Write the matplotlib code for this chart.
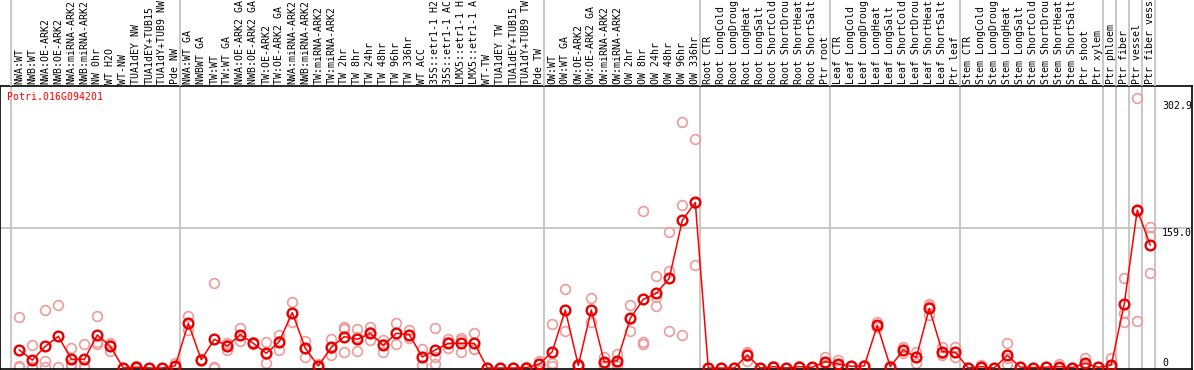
import matplotlib
matplotlib.use("Agg")
import matplotlib.pyplot as plt
import matplotlib.transforms as mtransforms
import numpy as np

gene_id = "Potri.016G094201"

# sample labels as they show in the header (cut to the visible width)
labels = [
    "NWA:WT", "NWB:WT", "NWA:OE-ARK2", "NWB:OE-ARK2", "NWA:miRNA-ARK2",
    "NWB:miRNA-ARK2", "NW 0hr", "WT H2O", "WT-NW", "TUA1dEY NW",
    "TUA1dEY+TUB15", "TUA1dY+TUB9 NW", "Pde NW",
    "NWA:WT GA", "NWBWT GA", "TW:WT", "TW:WT GA", "NWA:OE-ARK2 GA",
    "NWB:OE-ARK2 GA", "TW:OE-ARK2", "TW:OE-ARK2 GA", "NWA:miRNA-ARK2",
    "NWB:miRNA-ARK2", "TW:miRNA-ARK2", "TW:miRNA-ARK2", "TW 2hr",
    "TW 8hr", "TW 24hr", "TW 48hr", "TW 96hr", "TW 336hr", "WT ACC",
    "35S::etr1-1 H2", "35S::etr1-1 AC", "LMX5::etr1-1 H",
    "LMX5::etr1-1 A", "WT-TW", "TUA1dEY TW", "TUA1dEY+TUB15",
    "TUA1dY+TUB9 TW", "Pde TW",
    "OW:WT", "OW:WT GA", "OW:OE-ARK2", "OW:OE-ARK2 GA", "OW:miRNA-ARK2",
    "OW:miRNA-ARK2", "OW 2hr", "OW 8hr", "OW 24hr", "OW 48hr", "OW 96hr",
    "OW 336hr",
    "Root CTR", "Root LongCold", "Root LongDroug", "Root LongHeat",
    "Root LongSalt", "Root ShortCold", "Root ShortDrou", "Root ShortHeat",
    "Root ShortSalt", "Ptr root",
    "Leaf CTR", "Leaf LongCold", "Leaf LongDroug", "Leaf LongHeat",
    "Leaf LongSalt", "Leaf ShortCold", "Leaf ShortDrou", "Leaf ShortHeat",
    "Leaf ShortSalt", "Ptr leaf",
    "Stem CTR", "Stem LongCold", "Stem LongDroug", "Stem LongHeat",
    "Stem LongSalt", "Stem ShortCold", "Stem ShortDrou", "Stem ShortHeat",
    "Stem ShortSalt", "Ptr shoot", "Ptr xylem",
    "Ptr phloem", "Ptr fiber", "Ptr vessel", "Ptr fiber vess",
]
group_sizes = [13, 28, 12, 10, 10, 11, 1, 1, 1, 1]

means = [
    20.5, 9, 24.6, 36, 10, 9.8, 37.5, 24.6, 0, 1, 0, 0, 2.6,
    50.8, 9.4, 32.6, 25, 37.9, 28, 16.7, 30, 63, 22.4, 2.3, 23.5, 35.6,
    32.6, 39.4, 25.8, 39.4, 37.9, 12.5, 20.5, 28, 28, 28, 0, 0, 0, 0.5, 4.2,
    18.5, 65.9, 3, 65.9, 6.8, 8.3, 56.4, 78, 84.8, 102, 167.7, 188,
    0, 0, 0, 14.8, 0, 1.5, 0, 1.5, 0.8, 7.2,
    4.5, 1.9, 2.3, 48.5, 1.5, 20.5, 12, 67.8, 18.5, 17.8,
    0, 1.5, 0, 14.4, 1, 0.5, 1, 1.5, 0.5, 5.3, 0.8,
    3.4, 72.7, 179.5, 139.7,
]
rep1 = [
    57.6, 25.8, 65.5, 71, 22.4, 27, 59, 28, 0, 2, 0, 0, 6,
    59, 10, 96, 28.8, 45, 29, 29, 38, 74.6, 31, 5, 32.6, 47,
    44, 46, 31.8, 50.8, 43, 21.6, 45, 33, 34.5, 39.8, 0, 0, 0, 1, 8.3,
    49.6, 89.4, 5, 79, 12.8, 16, 71, 178, 105, 154, 279, 260,
    0, 0, 0, 18.5, 0, 2, 0, 2, 1, 12.8,
    9, 2, 3, 52.6, 2, 23.5, 18.5, 72.7, 23.5, 23.5,
    0, 3, 0, 28, 1, 0.5, 1, 4.5, 0.5, 11, 1,
    11, 102, 306.4, 160.5,
]
rep2 = [
    1.5, 0.3, 8, 1, 5, 0.3, 30, 19.7, 0, 0.5, 0, 0, 1,
    43, 9, 1.5, 20.5, 31, 27, 5.3, 21, 52, 12.8, 1, 15, 44,
    19, 31.4, 18, 27, 33.7, 3, 12, 22.4, 18, 22, 0, 0, 0, 0.5, 0.3,
    5.3, 42, 2, 52, 1.5, 2.6, 42, 30, 81, 110, 184.8, 117,
    0, 0, 0, 8.3, 0, 1.5, 0, 1.5, 1, 3.4,
    1.5, 2, 2, 46, 1.5, 17.4, 5.3, 60, 14.4, 12,
    0, 1, 0, 4.5, 1, 0.5, 1, 0, 0.5, 2, 0.8,
    0, 62, 53.4, 150,
]
rep3 = [
    2.4, 1, 1, 36, 1.5, 2, 27, 26, 0, 0.5, 0, 0, 0.8,
    50, 9, 0.3, 26, 38, 28, 16, 31, 63, 23, 1, 23, 18,
    35, 41, 27, 40, 37, 13, 5, 29, 32, 22, 0, 0, 0, 0, 4,
    2.6, 66, 2, 66, 6, 6, 56, 27, 70, 42, 38, 187,
    0, 0, 0, 17, 0, 1, 0, 1, 0.5, 5.5,
    3, 1.7, 2, 47, 1, 20.6, 12, 70, 17.6, 18,
    0, 0.5, 0, 11, 1, 0.5, 1, 0, 0.5, 3, 0.6,
    0, 52, 178.7, 108,
]
ytick_values = [0, 159.0, 302.9]
ytick_labels = ["0", "159.0", "302.9"]

red = "#ff0000"
pink = "#f09a9a"
grey = "#c4c4c4"
mono = "DejaVu Sans Mono"

W, H = 1194, 370
fig = plt.figure(figsize=(W / 100, H / 100), dpi=100)

x = np.arange(len(labels))
xlim = (-1.485, 90.21)
seps = np.concatenate([[0], np.cumsum(group_sizes)]) - 0.64

# plot area: pixels 86..369 from the top
ax = fig.add_axes([0 / W, 1 / H, 1192 / W, 283 / H])
ax.set_xlim(*xlim)
ax.set_ylim(-1.14, 320.3)
for s in ax.spines.values():
    s.set_color("black")
    s.set_linewidth(1.2)
ax.set_xticks([])
ax.set_yticks([])

for sx in seps:
    ax.axvline(sx, color=grey, lw=1.3, zorder=1)
ax.axhline(ytick_values[1], color=grey, lw=1.3, zorder=1)

for rep in (rep1, rep2, rep3):
    ax.plot(x, rep, ls="none", marker="o", ms=7, mfc="none",
            mec=pink, mew=1.2, zorder=2, clip_on=False)
ax.plot(x, means, color=red, lw=1.1, zorder=3)
ax.plot(x, means, ls="none", marker="o", ms=7, mfc="none",
        mec="#e80000", mew=1.7, zorder=4, clip_on=False)

# value labels on the right
trans = mtransforms.blended_transform_factory(ax.transAxes, ax.transData)
for v, t in zip(ytick_values, ytick_labels):
    ax.text(1162 / 1192, v, t, transform=trans, ha="left",
            va="bottom" if v == 0 else "top", fontsize=7.1,
            family=mono, color="black")

ax.text(7 / 1192, 1 - 11 / 283, gene_id, transform=ax.transAxes,
        ha="left", va="center", fontsize=7.1, family=mono, color=red)

# header with rotated sample names
hx = fig.add_axes([0 / W, (H - 86) / H, 1192 / W, 86 / H])
hx.set_xlim(*xlim)
hx.set_ylim(0, 86)
hx.axis("off")
for sx in seps:
    hx.axvline(sx, color=grey, lw=1.3)
for xi, lab in zip(x, labels):
    hx.text(xi, 1.5, lab, rotation=90, ha="center", va="bottom",
            fontsize=7.1, family=mono, color="black")

fig.savefig("out.png", dpi=100)
